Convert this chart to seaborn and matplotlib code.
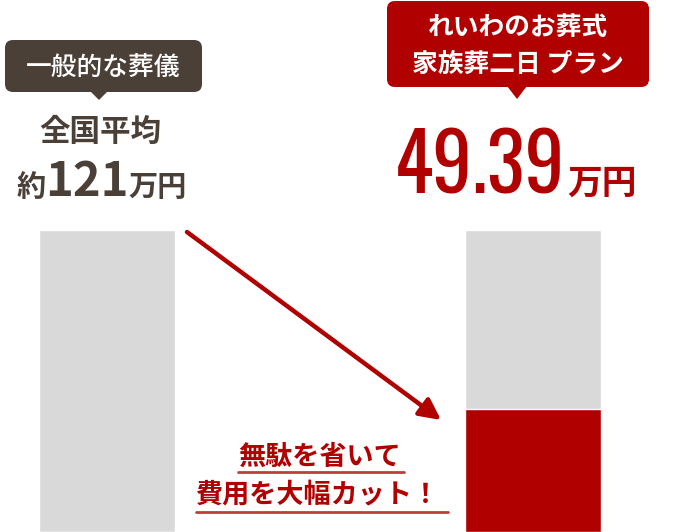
import matplotlib
matplotlib.use('Agg')
import matplotlib.pyplot as plt
import seaborn as sns
import pandas as pd
from matplotlib.patches import FancyBboxPatch, Polygon

# データ（万円）
plans = ['一般的な葬儀', 'れいわのお葬式 家族葬二日 プラン']
general_cost = [121, 121]      # 全国平均（グレーの背景バー）
reiwa_cost = [0, 49.39]        # れいわのお葬式の費用
avg_label = '121'
price_label = '49.39'

RED = '#b00000'
BROWN = '#4b4038'
GRAY = '#d9d9d9'

sns.set_theme(style='white')
plt.rcParams['font.family'] = ['Noto Sans CJK JP', 'DejaVu Sans']

df = pd.DataFrame({'plan': plans, 'general': general_cost, 'reiwa': reiwa_cost})

fig = plt.figure(figsize=(6.76, 5.32), dpi=100)
ax = fig.add_axes([0, 0, 1, 1])

# バー
sns.barplot(data=df, x='plan', y='general', color=GRAY, saturation=1,
            width=0.32, ax=ax)
sns.barplot(data=df, x='plan', y='reiwa', color=RED, saturation=1,
            width=0.32, ax=ax)
ax.set_xlim(-0.251, 1.336)
ax.set_ylim(0, 121 * 532 / 302)
ax.axis('off')

# 注釈用のオーバーレイ（ピクセル座標）
ov = fig.add_axes([0, 0, 1, 1], zorder=5)
ov.set_xlim(0, 676)
ov.set_ylim(532, 0)
ov.axis('off')
ov.patch.set_alpha(0)

# 左の吹き出し
ov.add_patch(FancyBboxPatch((5, 40), 197, 52,
                            boxstyle='round,pad=0,rounding_size=8',
                            color=BROWN, lw=0))
ov.add_patch(Polygon([(90, 91), (108, 91), (99, 100)], color=BROWN, lw=0))
ov.text(103, 67, plans[0], color='white', fontsize=18.5, fontweight='medium',
        ha='center', va='center')

# 右の吹き出し
ov.add_patch(FancyBboxPatch((387, 1), 262, 86,
                            boxstyle='round,pad=0,rounding_size=8',
                            color=RED, lw=0))
ov.add_patch(Polygon([(507, 86), (527, 86), (517, 99)], color=RED, lw=0))
ov.text(518, 27, 'れいわのお葬式', color='white', fontsize=18.5,
        fontweight='bold', ha='center', va='center')
ov.text(518, 64, '家族葬二日 プラン', color='white', fontsize=18.5,
        fontweight='bold', ha='center', va='center')

# 全国平均
ov.text(100, 132, '全国平均', color=BROWN, fontsize=22, fontweight='bold',
        ha='center', va='center')
ov.text(46, 196, '約', color=BROWN, fontsize=21, fontweight='bold',
        ha='right', va='baseline')
ov.text(87, 196, avg_label, color=BROWN, fontsize=34, fontweight='bold',
        ha='center', va='baseline')
ov.text(128, 196, '万円', color=BROWN, fontsize=21, fontweight='bold',
        ha='left', va='baseline')

# れいわの価格
ov.text(565, 194, price_label, color=RED, family=['Oswald', 'DejaVu Sans'],
        fontweight='bold', fontsize=57, ha='right', va='baseline')
ov.text(567, 194, '万円', color=RED, fontsize=25, fontweight='bold',
        ha='left', va='baseline')

# 矢印
ov.annotate('', xy=(441, 420), xytext=(187, 232),
            arrowprops=dict(arrowstyle='-|>', color=RED, lw=3.2,
                            mutation_scale=32, shrinkA=0, shrinkB=0))

# 赤いメッセージ
ov.text(320, 457, '無駄を省いて', color=RED, fontsize=19.5,
        fontweight='bold', ha='center', va='center')
ov.plot([238, 404], [472, 472], color='#c43c3c', lw=2)
ov.text(318, 494, '費用を大幅カット！', color=RED, fontsize=19.5,
        fontweight='bold', ha='center', va='center')
ov.plot([196, 448], [512, 512], color='#c43c3c', lw=2)

fig.savefig('out.png', dpi=100)
